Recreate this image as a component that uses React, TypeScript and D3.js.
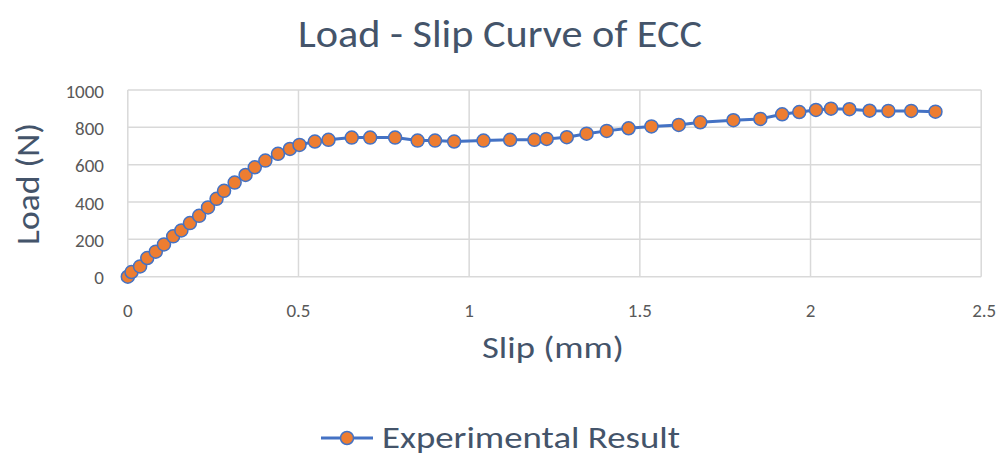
import React from "react";
import * as d3 from "d3";

const slip: number[] = [
  0, 0.011, 0.036, 0.057, 0.082, 0.106, 0.133, 0.157, 0.182, 0.209, 0.235, 0.26,
  0.282, 0.313, 0.345, 0.372, 0.403, 0.44, 0.475, 0.503, 0.548, 0.588, 0.656,
  0.71, 0.783, 0.849, 0.9, 0.956, 1.042, 1.12, 1.191, 1.227, 1.286, 1.344, 1.403,
  1.467, 1.534, 1.614, 1.677, 1.774, 1.853, 1.917, 1.967, 2.016, 2.06, 2.114,
  2.173, 2.228, 2.295, 2.366,
];
const load: number[] = [
  0, 25, 55, 100, 134, 173, 216, 248, 287, 326, 371, 417, 460, 504, 545, 586,
  622, 658, 684, 706, 724, 733, 745, 745, 745, 729, 729, 724, 729, 733, 733, 738,
  747, 766, 781, 795, 805, 813, 827, 838, 845, 870, 882, 893, 900, 897, 889, 888,
  888, 884,
];
const xTicks: number[] = [0, 0.5, 1, 1.5, 2, 2.5];
const yTicks: number[] = [0, 200, 400, 600, 800, 1000];
const title = "Load - Slip Curve of ECC";
const xTitle = "Slip (mm)";
const yTitle = "Load (N)";
const seriesName = "Experimental Result";

const FONT = "Carlito, Calibri, Lato, 'Open Sans', sans-serif";

export default function App() {
  const W = 1000;
  const H = 457;
  const x = d3.scaleLinear().domain([0, 2.5]).range([127.8, 981.2]);
  const y = d3.scaleLinear().domain([0, 1000]).range([276.7, 90]);
  const pts = slip.map((s, i) => [s, load[i]] as [number, number]);
  const line = d3
    .line<[number, number]>()
    .x((d) => x(d[0]))
    .y((d) => y(d[1]));
  const blue = "#4472c4";
  const orange = "#ed7d31";
  const textCol = "#44546a";
  const tickCol = "#595959";
  return (
    <svg
      width={W}
      height={H}
      style={{ position: "absolute", left: 0, top: 0, background: "#fff" }}
      fontFamily={FONT}
    >
      <rect x={0} y={0} width={W} height={H} fill="#fff" />
      {yTicks.map((t) => (
        <line key={"gy" + t} x1={x(0)} x2={x(2.5)} y1={y(t)} y2={y(t)} stroke="#d9d9d9" strokeWidth={1.5} />
      ))}
      {xTicks.map((t) => (
        <line key={"gx" + t} x1={x(t)} x2={x(t)} y1={y(0)} y2={y(1000)} stroke="#d9d9d9" strokeWidth={1.5} />
      ))}
      {yTicks.map((t) => (
        <text key={"ty" + t} x={104} y={y(t) + 7.5} textAnchor="end" fontSize={19} fill={tickCol}>
          {t}
        </text>
      ))}
      {xTicks.map((t) => (
        <text key={"tx" + t} x={x(t) + (t === 2.5 ? 3 : 0)} y={316.5} textAnchor="middle" fontSize={19} fill={tickCol}>
          {t}
        </text>
      ))}
      <path d={line(pts) || ""} fill="none" stroke={blue} strokeWidth={3} strokeLinejoin="round" />
      {pts.map((p, i) => (
        <circle key={"c" + i} cx={x(p[0])} cy={y(p[1])} r={6.5} fill={orange} stroke={blue} strokeWidth={1.5} />
      ))}
      <text x={298} y={47} fontSize={39} fill={textCol} textLength={404} lengthAdjust="spacingAndGlyphs">
        {title}
      </text>
      <text x={482} y={358} fontSize={30} fill={textCol} textLength={142} lengthAdjust="spacingAndGlyphs">
        {xTitle}
      </text>
      <text
        transform={`translate(39,${245}) rotate(-90)`}
        fontSize={32}
        fill={textCol}
        textLength={122}
        lengthAdjust="spacingAndGlyphs"
      >
        {yTitle}
      </text>
      <line x1={321} x2={373} y1={438} y2={438} stroke={blue} strokeWidth={3} />
      <circle cx={347} cy={438} r={6.5} fill={orange} stroke={blue} strokeWidth={1.5} />
      <text x={382} y={448} fontSize={30} fill={textCol} textLength={298} lengthAdjust="spacingAndGlyphs">
        {seriesName}
      </text>
    </svg>
  );
}
